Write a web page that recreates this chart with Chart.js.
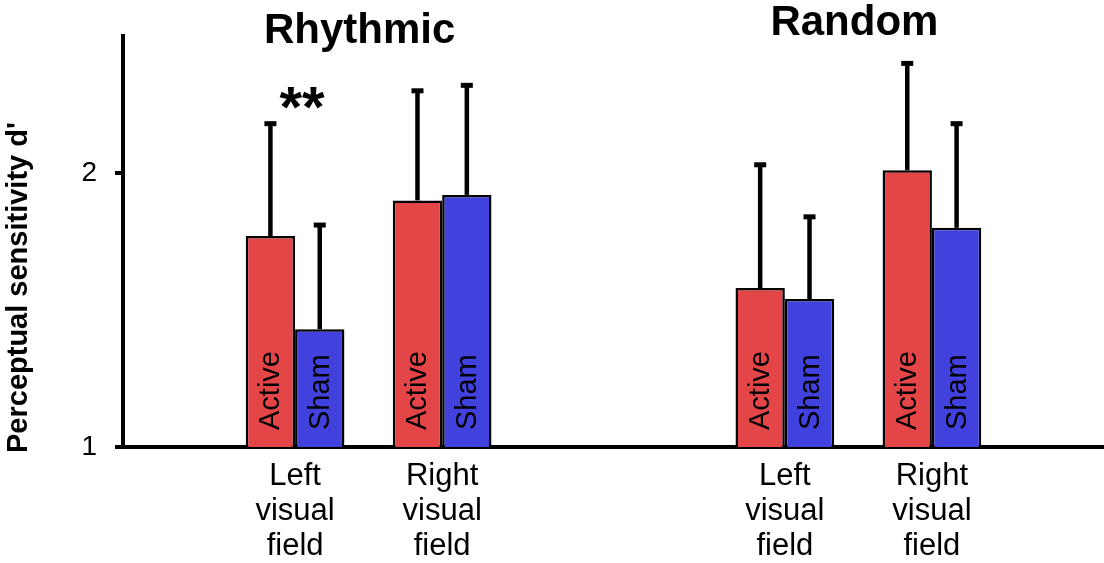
<!DOCTYPE html>
<html>
<head>
<meta charset="utf-8">
<script src="https://cdn.jsdelivr.net/npm/chart.js@4/dist/chart.umd.min.js"></script>
<style>
  html, body { margin: 0; padding: 0; background: #fff; }
  #wrap { width: 1104px; height: 563px; }
</style>
</head>
<body>
<div id="wrap"><canvas id="c" width="1104" height="563"></canvas></div>
<script>
// Conditions and visual-field groups
const groupTitles = ['Rhythmic', 'Random'];
const fieldLabels = ['Left visual field', 'Right visual field', 'Left visual field', 'Right visual field'];
// Positions of the four field groups along the x axis (gap between conditions)
const fieldPositions = [1, 2, 4.33, 5.33];
// Perceptual sensitivity d' (mean) and upper error
const activeMeans = [1.77, 1.90, 1.58, 2.01];
const activeErrors = [0.41, 0.40, 0.45, 0.39];
const shamMeans = [1.43, 1.92, 1.54, 1.80];
const shamErrors = [0.38, 0.40, 0.30, 0.38];
const yTickValues = [1, 2];
const significance = '**';

const FONT = "'Liberation Sans', Arial, Helvetica, sans-serif";
const RED = '#E44648';
const BLUE = '#4141DE';

// Error bars (upper only), in-bar labels, condition titles and significance mark
const annotate = {
  id: 'annotate',
  afterDatasetsDraw(chart) {
    const ctx = chart.ctx;
    const xs = chart.scales.x, ys = chart.scales.y;
    const errs = [activeErrors, shamErrors];
    const means = [activeMeans, shamMeans];
    const names = ['Active', 'Sham'];
    ctx.save();
    chart.data.datasets.forEach((ds, di) => {
      const meta = chart.getDatasetMeta(di);
      meta.data.forEach((bar, i) => {
        const top = ys.getPixelForValue(means[di][i] + errs[di][i]);
        ctx.strokeStyle = '#000';
        ctx.lineWidth = 4.5;
        ctx.beginPath();
        ctx.moveTo(bar.x, bar.y);
        ctx.lineTo(bar.x, top);
        ctx.stroke();
        ctx.fillStyle = '#000';
        ctx.fillRect(bar.x - 6, top - 2.5, 12, 5);
        // vertical label inside the bar
        ctx.save();
        ctx.translate(bar.x, ys.getPixelForValue(ys.min) - 17);
        ctx.rotate(-Math.PI / 2);
        ctx.font = '29px ' + FONT;
        ctx.textAlign = 'left';
        ctx.textBaseline = 'middle';
        ctx.fillStyle = '#000';
        ctx.fillText(names[di], 0, 1);
        ctx.restore();
      });
    });
    // condition titles centred over their two field groups
    ctx.font = 'bold 42px ' + FONT;
    ctx.fillStyle = '#000';
    ctx.textAlign = 'center';
    ctx.textBaseline = 'alphabetic';
    const tx1 = (xs.getPixelForValue(fieldPositions[0]) + xs.getPixelForValue(fieldPositions[1])) / 2 - 9;
    const tx2 = (xs.getPixelForValue(fieldPositions[2]) + xs.getPixelForValue(fieldPositions[3])) / 2 - 4;
    ctx.fillText(groupTitles[0], tx1, 43);
    ctx.fillText(groupTitles[1], tx2, 35);
    // significance above the rhythmic left-field pair
    ctx.font = 'bold 58px ' + FONT;
    ctx.fillText(significance, xs.getPixelForValue(fieldPositions[0]) + 7,
      ys.getPixelForValue(activeMeans[0] + activeErrors[0]) + 3);
    // y axis title
    ctx.save();
    ctx.translate(19, 453);
    ctx.rotate(-Math.PI / 2);
    ctx.font = 'bold 29px ' + FONT;
    ctx.textAlign = 'left';
    ctx.textBaseline = 'middle';
    ctx.fillText("Perceptual sensitivity d'", 0, 0);
    ctx.restore();
    ctx.restore();
  }
};

new Chart(document.getElementById('c'), {
  type: 'bar',
  data: {
    datasets: [
      { label: 'Active', data: fieldPositions.map((x, i) => ({ x, y: activeMeans[i] })),
        backgroundColor: RED, borderColor: '#000', borderWidth: 2.5, borderSkipped: 'bottom', inflateAmount: 0 },
      { label: 'Sham', data: fieldPositions.map((x, i) => ({ x, y: shamMeans[i] })),
        backgroundColor: BLUE, borderColor: '#000', borderWidth: 2.5, borderSkipped: 'bottom', inflateAmount: 0 }
    ]
  },
  options: {
    responsive: false,
    animation: false,
    events: [],
    categoryPercentage: 0.671,
    barPercentage: 1,
    layout: { padding: { top: 36, left: 0, right: 0, bottom: 0 } },
    plugins: { legend: { display: false }, tooltip: { enabled: false } },
    scales: {
      x: {
        type: 'linear',
        offset: false,
        min: -0.17,
        max: 6.5,
        afterBuildTicks: s => { s.ticks = fieldPositions.map(v => ({ value: v })); },
        afterFit: s => { s.height = 116; },
        grid: { display: false, drawTicks: false },
        border: { display: true, color: '#000', width: 4 },
        ticks: {
          autoSkip: false,
          maxRotation: 0,
          padding: 12,
          color: '#000',
          font: { family: FONT, size: 31, lineHeight: 1.13 },
          callback: (v, i) => fieldLabels[i].split(' ')
        }
      },
      y: {
        min: 1,
        max: 2.5,
        afterBuildTicks: s => { s.ticks = yTickValues.map(v => ({ value: v })); },
        afterFit: s => { s.width = 123; },
        grid: { drawOnChartArea: false, drawTicks: true, tickLength: 8, lineWidth: 4, color: '#000' },
        border: { display: true, color: '#000', width: 4 },
        ticks: {
          padding: 18,
          color: '#000',
          font: { family: FONT, size: 28 }
        }
      }
    }
  },
  plugins: [annotate]
});
</script>
</body>
</html>
